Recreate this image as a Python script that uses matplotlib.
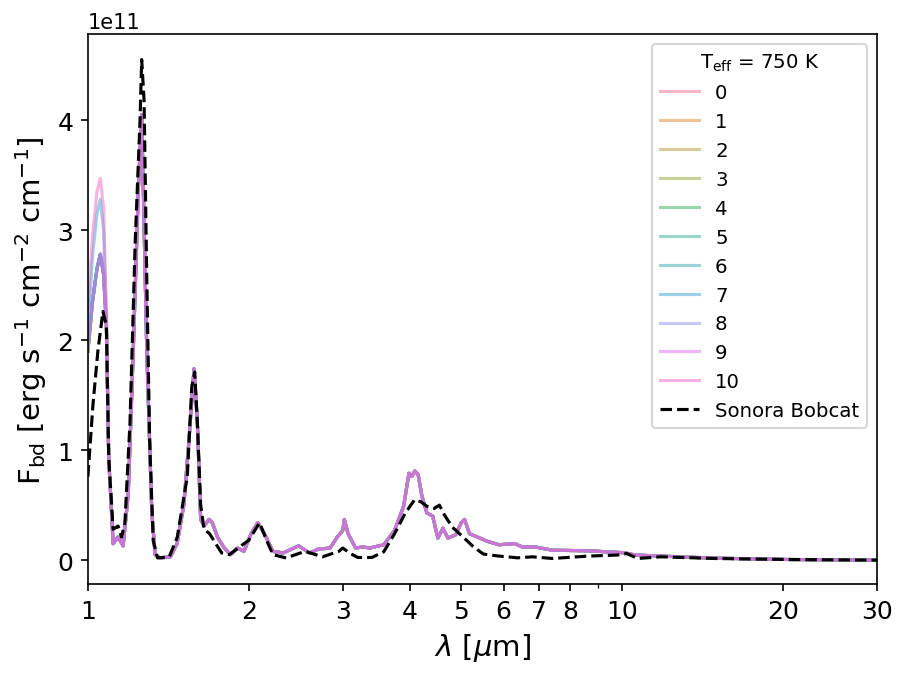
import numpy as np
import matplotlib
matplotlib.use("Agg")
import matplotlib.pyplot as plt
import matplotlib.ticker as mticker
import seaborn as sns

# Model spectra (11 runs): Y band differs between runs, the rest overlaps
yband_wave = [1.0, 1.02, 1.04, 1.055, 1.07, 1.083]
yband_low = [1.90, 2.35, 2.65, 2.78, 2.60, 2.13]
yband_mid = [2.10, 2.75, 3.15, 3.28, 3.00, 2.20]
yband_high = [2.25, 2.95, 3.35, 3.47, 3.20, 2.25]
yband_per_model = [yband_low, yband_low, yband_low, yband_low, yband_low, yband_low,
                   yband_low, yband_mid, yband_low, yband_low, yband_high]

rest_wave = [1.094, 1.115, 1.139, 1.164, 1.19, 1.216, 1.243, 1.261, 1.289, 1.317,
             1.336, 1.366, 1.427, 1.469, 1.512, 1.546, 1.58, 1.603, 1.626, 1.65,
             1.685, 1.71, 1.748, 1.80, 1.85, 1.906, 1.96, 2.02, 2.08, 2.14,
             2.22, 2.32, 2.48, 2.60, 2.70, 2.84, 2.93, 3.0, 3.02, 3.07,
             3.17, 3.27, 3.37, 3.58, 3.75, 3.90, 3.99, 4.04, 4.09, 4.15,
             4.22, 4.31, 4.42, 4.52, 4.62, 4.72, 4.88, 5.0, 5.07, 5.18,
             5.36, 5.60, 5.88, 6.3, 6.5, 6.86, 7.41, 8.65, 10.1, 10.6,
             11.8, 14.9, 20.2, 30.0]
rest_flux = [0.93, 0.15, 0.21, 0.13, 0.60, 1.90, 3.37, 4.05, 1.90, 0.44,
             0.05, 0.02, 0.03, 0.15, 0.50, 1.09, 1.74, 1.25, 0.37, 0.31,
             0.37, 0.34, 0.21, 0.11, 0.05, 0.11, 0.08, 0.24, 0.34, 0.24,
             0.08, 0.065, 0.13, 0.065, 0.10, 0.11, 0.21, 0.27, 0.37, 0.24,
             0.11, 0.12, 0.11, 0.14, 0.27, 0.49, 0.79, 0.76, 0.81, 0.78,
             0.58, 0.43, 0.40, 0.20, 0.29, 0.20, 0.23, 0.34, 0.37, 0.24,
             0.21, 0.17, 0.14, 0.15, 0.12, 0.12, 0.09, 0.085, 0.067, 0.046,
             0.037, 0.018, 0.006, 0.0]

# Sonora Bobcat reference spectrum
bobcat_wave = [1.0, 1.022, 1.044, 1.067, 1.083, 1.094, 1.115, 1.139, 1.156, 1.173,
               1.199, 1.226, 1.252, 1.261, 1.274, 1.289, 1.305, 1.325, 1.35, 1.42,
               1.47, 1.535, 1.565, 1.585, 1.603, 1.626, 1.65, 1.69, 1.72, 1.78,
               1.84, 1.91, 2.0, 2.096, 2.16, 2.22, 2.35, 2.55, 2.75, 2.95,
               3.0, 3.1, 3.2, 3.4, 3.58, 3.75, 3.93, 4.09, 4.2, 4.31,
               4.45, 4.55, 4.65, 4.81, 5.04, 5.27, 5.5, 5.88, 6.37, 6.8,
               7.41, 8.65, 9.79, 10.2, 10.7, 11.8, 14.9, 20.2, 30.0]
bobcat_flux = [0.76, 1.41, 1.90, 2.26, 2.13, 0.93, 0.28, 0.31, 0.21, 0.34,
               1.25, 2.88, 4.00, 4.55, 4.18, 2.55, 1.09, 0.18, 0.02, 0.03,
               0.21, 0.76, 1.58, 1.71, 1.25, 0.50, 0.28, 0.24, 0.18, 0.065,
               0.05, 0.11, 0.18, 0.34, 0.18, 0.05, 0.02, 0.08, 0.03, 0.08,
               0.11, 0.06, 0.024, 0.024, 0.076, 0.24, 0.43, 0.55, 0.53, 0.49,
               0.47, 0.50, 0.41, 0.30, 0.21, 0.12, 0.055, 0.037, 0.021, 0.03,
               0.015, 0.037, 0.046, 0.06, 0.015, 0.03, 0.015, 0.006, 0.0]

model_labels = [str(i) for i in range(11)]
colors = sns.color_palette("husl", len(model_labels))

fig, ax = plt.subplots(figsize=(6.04, 4.52), dpi=150)
fig.subplots_adjust(left=0.097, right=0.968, top=0.948, bottom=0.137)

for i, lab in enumerate(model_labels):
    wave = np.array(yband_wave + rest_wave)
    flux = np.array(yband_per_model[i] + rest_flux) * 1e11
    ax.plot(wave, flux, color=colors[i], alpha=0.5, lw=1.5, label=lab)

ax.plot(np.array(bobcat_wave), np.array(bobcat_flux) * 1e11, "k--", lw=1.5,
        label="Sonora Bobcat")

ax.set_xscale("log")
ax.set_xlim(1, 30)
ax.set_ylim(-0.218e11, 4.78e11)
major = [1, 2, 3, 4, 5, 6, 7, 8, 10, 20, 30]
ax.xaxis.set_major_locator(mticker.FixedLocator(major))
ax.xaxis.set_major_formatter(mticker.FixedFormatter([str(m) for m in major]))
ax.xaxis.set_minor_locator(mticker.FixedLocator([9]))
ax.xaxis.set_minor_formatter(mticker.NullFormatter())
ax.tick_params(labelsize=12)
ax.yaxis.get_offset_text().set_fontsize(10)

ax.set_xlabel(r"$\lambda$ [$\mu$m]", fontsize=14)
ax.set_ylabel(r"F$_{\rm bd}$ [erg s$^{-1}$ cm$^{-2}$ cm$^{-1}$]", fontsize=14)
ax.legend(title=r"T$_{\rm eff}$ = 750 K", loc="upper right", fontsize=9.5,
          title_fontsize=9.5)

fig.savefig("out.png", dpi=150)
